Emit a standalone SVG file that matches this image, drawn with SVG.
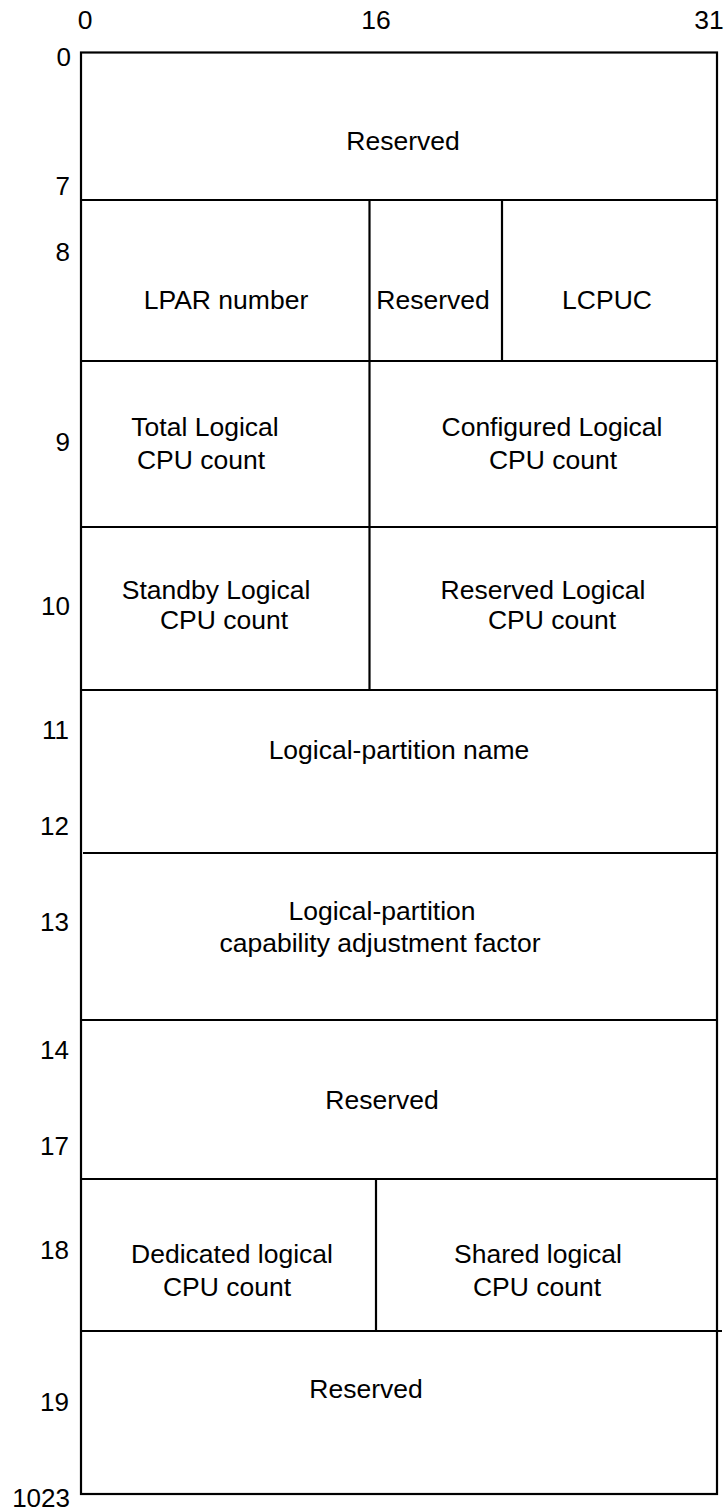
<svg xmlns="http://www.w3.org/2000/svg" width="727" height="1510" viewBox="0 0 727 1510">
<style>
.t{font-family:"Liberation Sans",Arial,sans-serif;font-size:26.5px;fill:#000;text-anchor:middle}
.l{font-family:"Liberation Sans",Arial,sans-serif;font-size:26px;fill:#000;text-anchor:end}
.ln{stroke:#000;stroke-width:2.2;fill:none}
</style>
<rect width="727" height="1510" fill="#fff"/>
<g id="axis-top">
<text class="t" x="85" y="29">0</text>
<text class="t" x="376" y="29">16</text>
<text class="t" x="709" y="29">31</text>
</g>
<g id="axis-left">
<text class="l" x="71" y="66">0</text>
<text class="l" x="70" y="195">7</text>
<text class="l" x="70" y="261">8</text>
<text class="l" x="70" y="451">9</text>
<text class="l" x="70" y="615">10</text>
<text class="l" x="69" y="739">11</text>
<text class="l" x="69" y="835">12</text>
<text class="l" x="69" y="931">13</text>
<text class="l" x="69" y="1059">14</text>
<text class="l" x="69" y="1155">17</text>
<text class="l" x="69" y="1259">18</text>
<text class="l" x="69" y="1411">19</text>
<text class="l" x="70" y="1507">1023</text>
</g>
<g id="connectors">
<rect class="ln" x="81" y="52.5" width="636" height="1441.5"/>
<line class="ln" x1="81" y1="200" x2="717" y2="200"/>
<line class="ln" x1="81" y1="361" x2="717" y2="361"/>
<line class="ln" x1="81" y1="527" x2="717" y2="527"/>
<line class="ln" x1="81" y1="690" x2="717" y2="690"/>
<line class="ln" x1="83" y1="853" x2="717" y2="853"/>
<line class="ln" x1="81" y1="1020" x2="717" y2="1020"/>
<line class="ln" x1="81" y1="1179" x2="717" y2="1179"/>
<line class="ln" x1="81" y1="1331" x2="722" y2="1331"/>
<line class="ln" x1="369.5" y1="200" x2="369.5" y2="690"/>
<line class="ln" x1="502" y1="200" x2="502" y2="361"/>
<line class="ln" x1="376" y1="1179" x2="376" y2="1331"/>
</g>
<g id="node-reserved-0"><text class="t" x="403" y="150">Reserved</text></g>
<g id="node-lpar-number"><text class="t" x="226" y="309">LPAR number</text></g>
<g id="node-reserved-8"><text class="t" x="433" y="309">Reserved</text></g>
<g id="node-lcpuc"><text class="t" x="607" y="309">LCPUC</text></g>
<g id="node-total"><text class="t" x="205" y="436">Total Logical</text><text class="t" x="201" y="469">CPU count</text></g>
<g id="node-configured"><text class="t" x="552" y="436">Configured Logical</text><text class="t" x="553" y="469">CPU count</text></g>
<g id="node-standby"><text class="t" x="216" y="599">Standby Logical</text><text class="t" x="224" y="629">CPU count</text></g>
<g id="node-reserved-logical"><text class="t" x="543" y="599">Reserved Logical</text><text class="t" x="552" y="629">CPU count</text></g>
<g id="node-lp-name"><text class="t" x="399" y="759">Logical-partition name</text></g>
<g id="node-lp-caf"><text class="t" x="382" y="920">Logical-partition</text><text class="t" x="380" y="952">capability adjustment factor</text></g>
<g id="node-reserved-14"><text class="t" x="382" y="1109">Reserved</text></g>
<g id="node-dedicated"><text class="t" x="232" y="1263">Dedicated logical</text><text class="t" x="227" y="1296">CPU count</text></g>
<g id="node-shared"><text class="t" x="538" y="1263">Shared logical</text><text class="t" x="537" y="1296">CPU count</text></g>
<g id="node-reserved-19"><text class="t" x="366" y="1398">Reserved</text></g>
</svg>
